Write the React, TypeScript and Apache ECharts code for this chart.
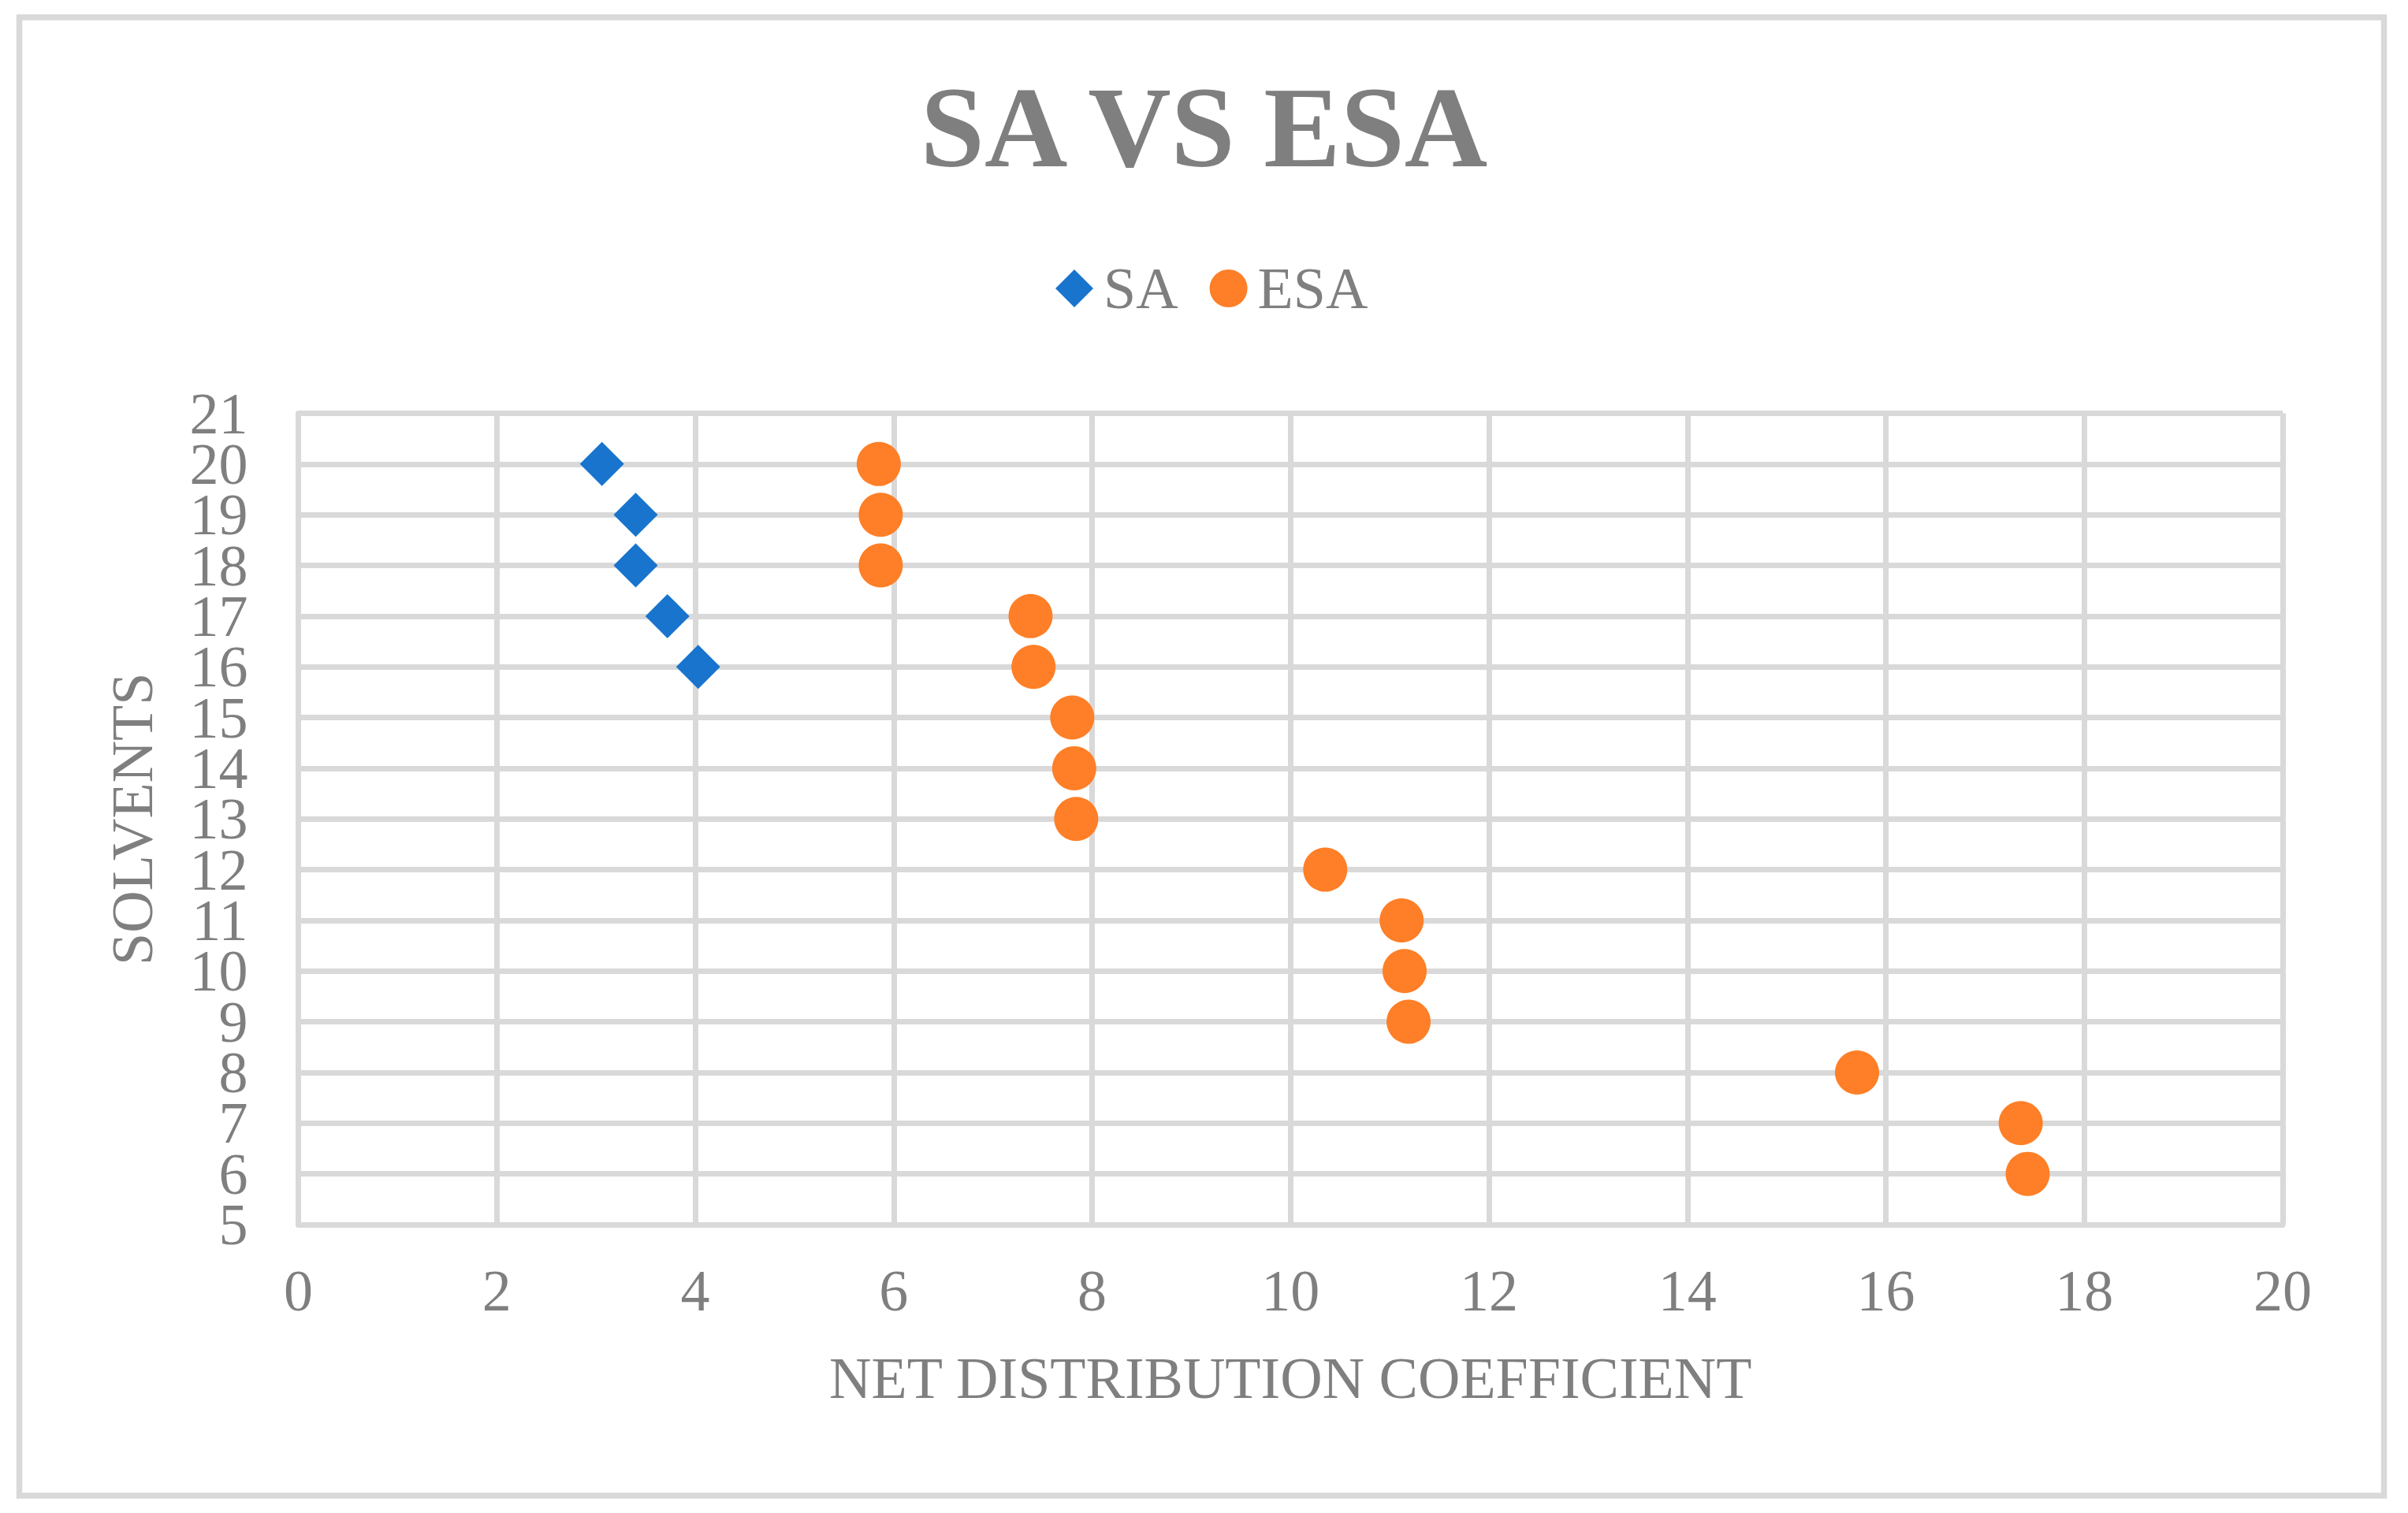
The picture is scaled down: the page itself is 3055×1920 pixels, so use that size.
import React, { useEffect, useRef } from "react";
import * as echarts from "echarts";

const titleText = "SA VS ESA";
const xAxisName = "NET DISTRIBUTION COEFFICIENT";
const yAxisName = "SOLVENTS";
const seriesNames = ["SA", "ESA"];

const saX = [3.06, 3.4, 3.4, 3.72, 4.03];
const saY = [20, 19, 18, 17, 16];

const esaX = [5.85, 5.87, 5.87, 7.38, 7.41, 7.8, 7.82, 7.84, 10.35, 11.12, 11.15, 11.19, 15.71, 17.36, 17.43];
const esaY = [20, 19, 18, 17, 16, 15, 14, 13, 12, 11, 10, 9, 8, 7, 6];

const xMin = 0, xMax = 20, xStep = 2;
const yMin = 5, yMax = 21, yStep = 1;

const FONT = "Liberation Serif";
const GRAY = "#7f7f7f";
const GRID = "#d9d9d9";

export default function App() {
  const ref = useRef<HTMLDivElement>(null);
  useEffect(() => {
    document.body.style.margin = "0";
    if (!ref.current) return;
    const chart = echarts.init(ref.current, undefined, { renderer: "svg" });
    const sa = saX.map((x, i) => [x, saY[i]]);
    const esa = esaX.map((x, i) => [x, esaY[i]]);
    const yLabel = { fontFamily: FONT, fontSize: 74, color: GRAY, margin: 64 };
    chart.setOption({
      animation: false,
      backgroundColor: "#ffffff",
      graphic: [
        {
          type: "rect",
          shape: { x: 24.5, y: 22, width: 3000, height: 1876 },
          style: { fill: "none", stroke: GRID, lineWidth: 7.5 },
          silent: true,
        },
      ],
      title: {
        text: titleText,
        left: "center",
        top: 84,
        textStyle: { fontFamily: FONT, fontWeight: "bold", fontSize: 146, color: GRAY },
      },
      legend: {
        top: 324,
        left: 1334,
        itemWidth: 48,
        itemHeight: 48,
        itemGap: 40,
        data: [
          { name: seriesNames[0], icon: "diamond" },
          { name: seriesNames[1], icon: "circle" },
        ],
        textStyle: { fontFamily: FONT, fontSize: 74, color: GRAY, padding: [0, 0, 0, 8] },
      },
      grid: { left: 378.5, top: 524.5, right: 159, bottom: 366, containLabel: false },
      xAxis: {
        type: "value",
        min: xMin,
        max: xMax,
        interval: xStep,
        name: xAxisName,
        nameLocation: "middle",
        nameGap: 158,
        nameTextStyle: { fontFamily: FONT, fontSize: 74, color: GRAY },
        axisLine: { show: true, lineStyle: { color: GRID, width: 7 } },
        axisTick: { show: false },
        axisLabel: { fontFamily: FONT, fontSize: 74, color: GRAY, margin: 47 },
        splitLine: { show: true, lineStyle: { color: GRID, width: 7 } },
      },
      yAxis: [
        {
          type: "value",
          position: "left",
          min: yMin,
          max: yMax,
          interval: yStep,
          name: yAxisName,
          nameLocation: "middle",
          nameGap: 174,
          nameTextStyle: { fontFamily: FONT, fontSize: 74, color: GRAY },
          axisLine: { show: true, lineStyle: { color: GRID, width: 7 } },
          axisTick: { show: false },
          axisLabel: { ...yLabel, showMinLabel: false, showMaxLabel: false },
          splitLine: { show: true, lineStyle: { color: GRID, width: 7 } },
        },
        {
          type: "value",
          position: "left",
          offset: 0,
          min: yMin,
          max: yMax,
          interval: yStep,
          axisLine: { show: false },
          axisTick: { show: false },
          splitLine: { show: false },
          axisLabel: {
            ...yLabel,
            showMinLabel: true,
            showMaxLabel: true,
            formatter: (v: number) => (v === yMin || v === yMax ? String(v) : ""),
          },
        },
      ],
      series: [
        {
          name: seriesNames[0],
          type: "scatter",
          yAxisIndex: 0,
          symbol: "diamond",
          symbolSize: 56,
          itemStyle: { color: "#1874CD", opacity: 1 },
          data: sa,
        },
        {
          name: seriesNames[1],
          type: "scatter",
          yAxisIndex: 0,
          symbol: "circle",
          symbolSize: 56,
          itemStyle: { color: "#FE7F27", opacity: 1 },
          data: esa,
        },
      ],
    });
    return () => chart.dispose();
  }, []);
  return <div ref={ref} style={{ width: 3055, height: 1920 }} />;
}
